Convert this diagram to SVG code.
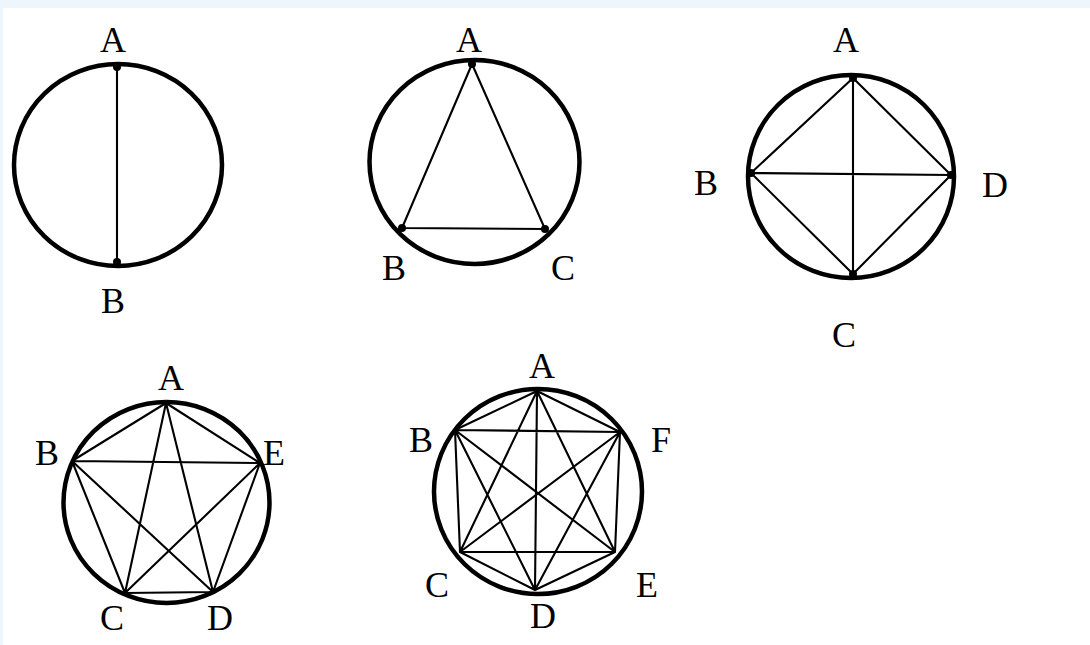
<svg xmlns="http://www.w3.org/2000/svg" width="1090" height="645" viewBox="0 0 1090 645">
<style>
.ring{fill:none;stroke:#000;stroke-width:4.5}
.ch{stroke:#000;stroke-width:2.1;fill:none;stroke-linecap:round}
.dot{fill:#000}
.lb{font-family:"Liberation Serif","Times New Roman",serif;font-size:36px;fill:#000;text-anchor:middle}
</style>
<rect x="0" y="0" width="1090" height="645" fill="#eef6fd"/>
<rect x="3" y="8" width="1087" height="637" fill="#ffffff"/>

<g id="fig1">
<ellipse class="ring" cx="118" cy="165" rx="104" ry="101"/>
<circle class="dot" cx="117" cy="67" r="4"/>
<circle class="dot" cx="117" cy="262" r="4"/>
<text class="lb" x="113" y="52">A</text>
<text class="lb" x="113" y="313">B</text>
</g>

<g id="fig2">
<ellipse class="ring" cx="474.5" cy="162" rx="105" ry="102"/>
<circle class="dot" cx="472" cy="64" r="4"/>
<circle class="dot" cx="402" cy="228" r="4"/>
<circle class="dot" cx="545" cy="229" r="4"/>
<text class="lb" x="469" y="52">A</text>
<text class="lb" x="394" y="280">B</text>
<text class="lb" x="563" y="280">C</text>
</g>

<g id="fig3">
<ellipse class="ring" cx="851" cy="176.5" rx="103" ry="101.5"/>
<circle class="dot" cx="853" cy="78" r="4"/>
<circle class="dot" cx="751" cy="173" r="4"/>
<circle class="dot" cx="951" cy="175" r="4"/>
<circle class="dot" cx="853" cy="274" r="4"/>
<text class="lb" x="846" y="52">A</text>
<text class="lb" x="706" y="195">B</text>
<text class="lb" x="995" y="197">D</text>
<text class="lb" x="844" y="347">C</text>
</g>

<g id="fig4">
<ellipse class="ring" cx="166.5" cy="502.5" rx="103" ry="100.5"/>
<text class="lb" x="171" y="390">A</text>
<text class="lb" x="47" y="465">B</text>
<text class="lb" x="274" y="465">E</text>
<text class="lb" x="112" y="630">C</text>
<text class="lb" x="220" y="630">D</text>
</g>

<g id="fig5">
<ellipse class="ring" cx="538" cy="491.5" rx="104" ry="102.5"/>
<text class="lb" x="542" y="378">A</text>
<text class="lb" x="421" y="452">B</text>
<text class="lb" x="661" y="452">F</text>
<text class="lb" x="437" y="597">C</text>
<text class="lb" x="647" y="597">E</text>
<text class="lb" x="543" y="628">D</text>
</g>

<g id="connectors">
<line class="ch" x1="117" y1="67" x2="117" y2="262"/>
<path class="ch" d="M472,64 L402,228 L545,229 Z"/>
<path class="ch" d="M853,78 L751,173 L853,274 L951,175 Z M853,78 L853,274 M751,173 L951,175"/>
<path class="ch" d="M166,403 L72,461 M166,403 L260,463 M166,403 L125,593 M166,403 L213,592 M72,461 L260,463 M72,461 L125,593 M72,461 L213,592 M260,463 L125,593 M260,463 L213,592 M125,593 L213,592"/>
<path class="ch" d="M537,391 L455,430 M537,391 L620,432 M537,391 L460,552 M537,391 L615,552 M537,391 L535,590 M455,430 L620,432 M455,430 L460,552 M455,430 L615,552 M455,430 L535,590 M620,432 L460,552 M620,432 L615,552 M620,432 L535,590 M460,552 L615,552 M460,552 L535,590 M615,552 L535,590"/>
</g>
</svg>
